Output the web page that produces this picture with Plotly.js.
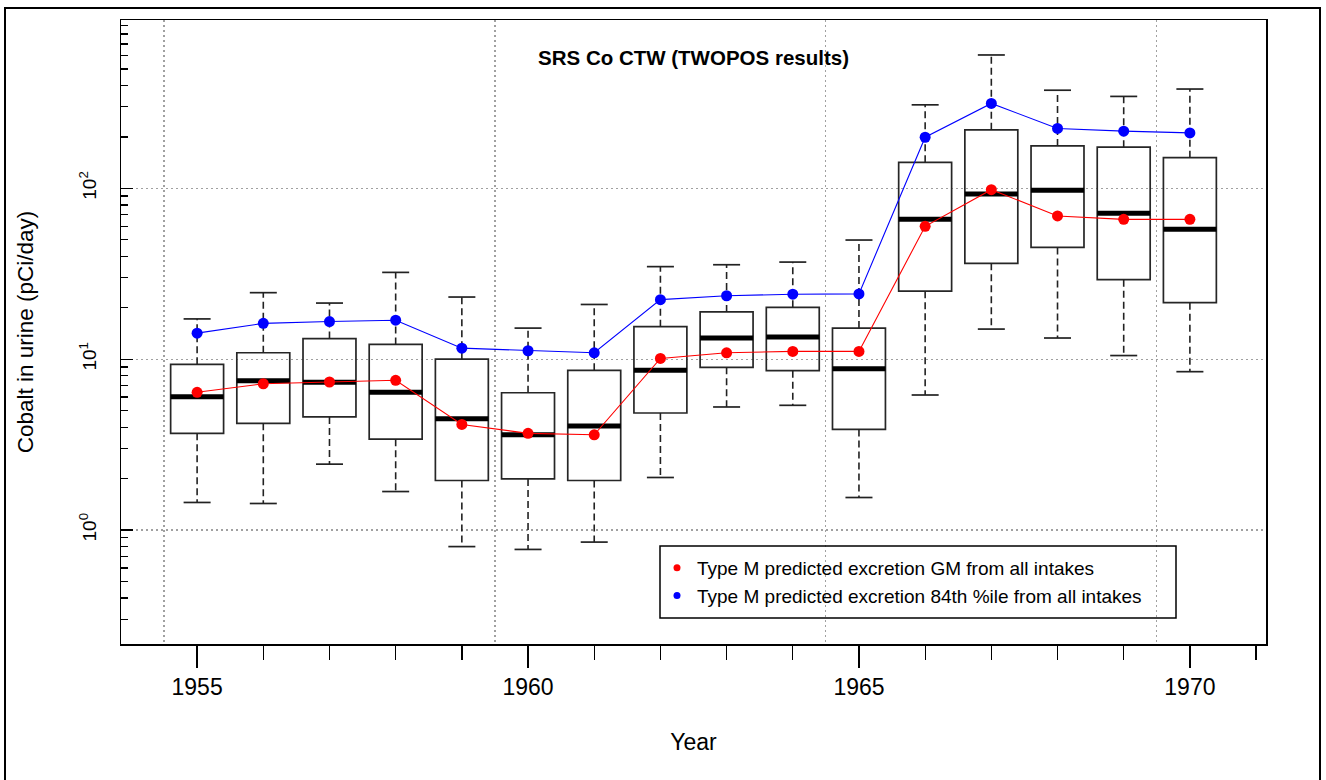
<!DOCTYPE html>
<html>
<head>
<meta charset="utf-8">
<script src="https://cdn.plot.ly/plotly-3.0.1.min.js"></script>
<style>html,body{margin:0;padding:0;background:#fff;}#chart{width:1326px;height:780px;}</style>
</head>
<body>
<div id="chart"></div>
<script>
// ---- data ----
const years   = [1955,1956,1957,1958,1959,1960,1961,1962,1963,1964,1965,1966,1967,1968,1969,1970];
const lowerW  = [1.45,1.43,2.43,1.68,0.80,0.77,0.85,2.03,5.25,5.37,1.55,6.17,15.0,13.3,10.5,8.45];
const q1      = [3.68,4.21,4.59,3.40,1.95,1.99,1.95,4.84,8.96,8.56,3.88,25.0,36.4,45.1,29.2,21.4];
const median  = [6.03,7.48,7.32,6.40,4.48,3.61,4.06,8.60,13.3,13.5,8.79,65.8,92.6,97.3,71.4,57.5];
const q3      = [9.33,10.9,13.2,12.2,10.0,6.36,8.60,15.5,18.9,20.1,15.2,142,220,177,174,151];
const upperW  = [17.2,24.5,21.3,32.2,23.1,15.2,20.9,34.8,35.7,37.0,49.8,308,603,375,345,381];
const gmPred  = [6.40,7.18,7.35,7.52,4.15,3.68,3.61,10.1,10.9,11.1,11.1,59.9,98.2,68.9,65.8,65.8];
const p84Pred = [14.2,16.2,16.6,16.9,11.6,11.2,10.9,22.3,23.5,24.0,24.1,199,314,224,216,211];

const xMajorTicks = [1955,1960,1965,1970];
const xMinorTicks = [1955,1956,1957,1958,1959,1960,1961,1962,1963,1964,1965,1966,1967,1968,1969,1970,1971];
const xGridVals   = [1954.5,1959.5,1964.5,1969.5];
const yMajorTicks = [1,10,100];
const yMajorText  = ['10<sup>0</sup>','10<sup>1</sup>','10<sup>2</sup>'];
const yMinorTicks = [0.3,0.4,0.5,0.6,0.7,0.8,0.9,2,3,4,5,6,7,8,9,20,30,40,50,60,70,80,90,200,300,400,500,600,700,800,900];

const gmName  = 'Type M predicted excretion GM from all intakes';
const p84Name = 'Type M predicted excretion 84th %ile from all intakes';

// ---- build traces ----
const FONT = 'Liberation Sans, Arial, sans-serif';
const wx = [], wy = [];
years.forEach((yr, i) => {
  wx.push(yr, yr, null, yr, yr, null);
  wy.push(q3[i], upperW[i], null, q1[i], lowerW[i], null);
});

const traces = [
  { type:'box', x:years, q1:q1, median:median, q3:q3, lowerfence:q1, upperfence:q3,
    width:0.8, whiskerwidth:0, boxpoints:false, fillcolor:'rgba(0,0,0,0)',
    line:{color:'#262626', width:1.7}, showlegend:false, hoverinfo:'skip' },
  { type:'scatter', mode:'lines', x:wx, y:wy, line:{color:'#222', width:1.6, dash:'7px,4px'},
    showlegend:false, hoverinfo:'skip' },
  { type:'scatter', mode:'markers', x:years.concat(years), y:upperW.concat(lowerW),
    marker:{symbol:'line-ew', size:19.3, color:'#222', line:{color:'#222', width:1.7}},
    showlegend:false, hoverinfo:'skip' },
  { type:'scatter', mode:'markers', x:years, y:median,
    marker:{symbol:'line-ew', size:37.9, color:'#000', line:{color:'#000', width:5}},
    showlegend:false, hoverinfo:'skip' },
  { type:'scatter', mode:'lines+markers', x:years, y:gmPred, xaxis:'x2',
    line:{color:'#ff0000', width:1.1}, marker:{color:'#ff0000', size:11},
    showlegend:false, name:gmName },
  { type:'scatter', mode:'lines+markers', x:years, y:p84Pred, xaxis:'x2',
    line:{color:'#0000ff', width:1.1}, marker:{color:'#0000ff', size:11},
    showlegend:false, name:p84Name },
  // legend entries (no data drawn)
  { type:'scatter', mode:'markers', x:[null], y:[null], name:gmName,
    marker:{color:'#ff0000', size:7} },
  { type:'scatter', mode:'markers', x:[null], y:[null], name:p84Name,
    marker:{color:'#0000ff', size:7} }
];

// ---- layout ----
const L = 121, R = 1266, T = 20, B = 644;
const PW = R - L, PH = B - T;
const px = v => (v - L) / PW;
const py = v => (B - v) / PH;
const XR = [1953.85, 1971.15];

const layout = {
  width:1326, height:780,
  margin:{l:L, r:1326-R, t:T, b:780-B, pad:0},
  paper_bgcolor:'#fff', plot_bgcolor:'#fff',
  font:{family:FONT, color:'#000'},
  title:{text:'<b>SRS Co CTW (TWOPOS results)</b>', font:{size:20.5, family:FONT, color:'#000'},
         x:0.5, xref:'paper', xanchor:'center', y:1-58/780, yref:'container', yanchor:'middle'},
  showlegend:true,
  legend:{x:px(657), xanchor:'left', y:py(549), yanchor:'top', bgcolor:'rgba(0,0,0,0)',
          borderwidth:0, font:{size:19, family:FONT, color:'#000'}, itemwidth:30, tracegroupgap:0},
  xaxis:{type:'linear', range:XR, showgrid:false, zeroline:false,
         showline:true, mirror:true, linecolor:'#000', linewidth:1.5,
         tickmode:'array', tickvals:xMajorTicks, ticktext:xMajorTicks.map(String),
         ticks:'outside', ticklen:22, tickwidth:1.3, tickcolor:'#000',
         tickfont:{size:23, family:FONT, color:'#000'},
         minor:{tickmode:'array', tickvals:xMinorTicks, ticks:'outside', ticklen:14, tickwidth:1.3, tickcolor:'#000', showgrid:false},
         title:{text:'Year', font:{size:23, family:FONT, color:'#000'}, standoff:35}},
  xaxis2:{type:'linear', range:XR, overlaying:'x', anchor:'y', side:'bottom',
          tickmode:'array', tickvals:xGridVals, ticks:'', showticklabels:false,
          showgrid:true, gridcolor:'#a0a0a0', gridwidth:1.2, griddash:'2px,3px',
          showline:false, zeroline:false},
  yaxis:{type:'log', range:[-0.667, 2.985], zeroline:false,
         showline:true, mirror:true, linecolor:'#000', linewidth:1.5,
         tickmode:'array', tickvals:yMajorTicks, ticktext:yMajorText,
         ticks:'inside', ticklen:12, tickwidth:1.3, tickcolor:'#000', tickangle:-90,
         ticklabelstandoff:16,
         tickfont:{size:19, family:FONT, color:'#000'},
         showgrid:true, gridcolor:'#a0a0a0', gridwidth:1.2, griddash:'2px,3px',
         minor:{tickmode:'array', tickvals:yMinorTicks, ticks:'inside', ticklen:7, tickwidth:1.3, tickcolor:'#000', showgrid:false},
         title:{text:'Cobalt in urine (pCi/day)', font:{size:22.5, family:FONT, color:'#000'}, standoff:36}},
  shapes:[
    {type:'rect', xref:'paper', yref:'paper', x0:px(660), x1:px(1176), y0:py(618), y1:py(546),
     line:{color:'#000', width:1.5}, fillcolor:'rgba(0,0,0,0)'},
    {type:'rect', xref:'paper', yref:'paper', x0:px(5), x1:px(1320), y0:py(800), y1:py(8),
     line:{color:'#000', width:2}, fillcolor:'rgba(0,0,0,0)'}
  ]
};

Plotly.newPlot('chart', traces, layout, {displayModeBar:false, staticPlot:true});
</script>
</body>
</html>
